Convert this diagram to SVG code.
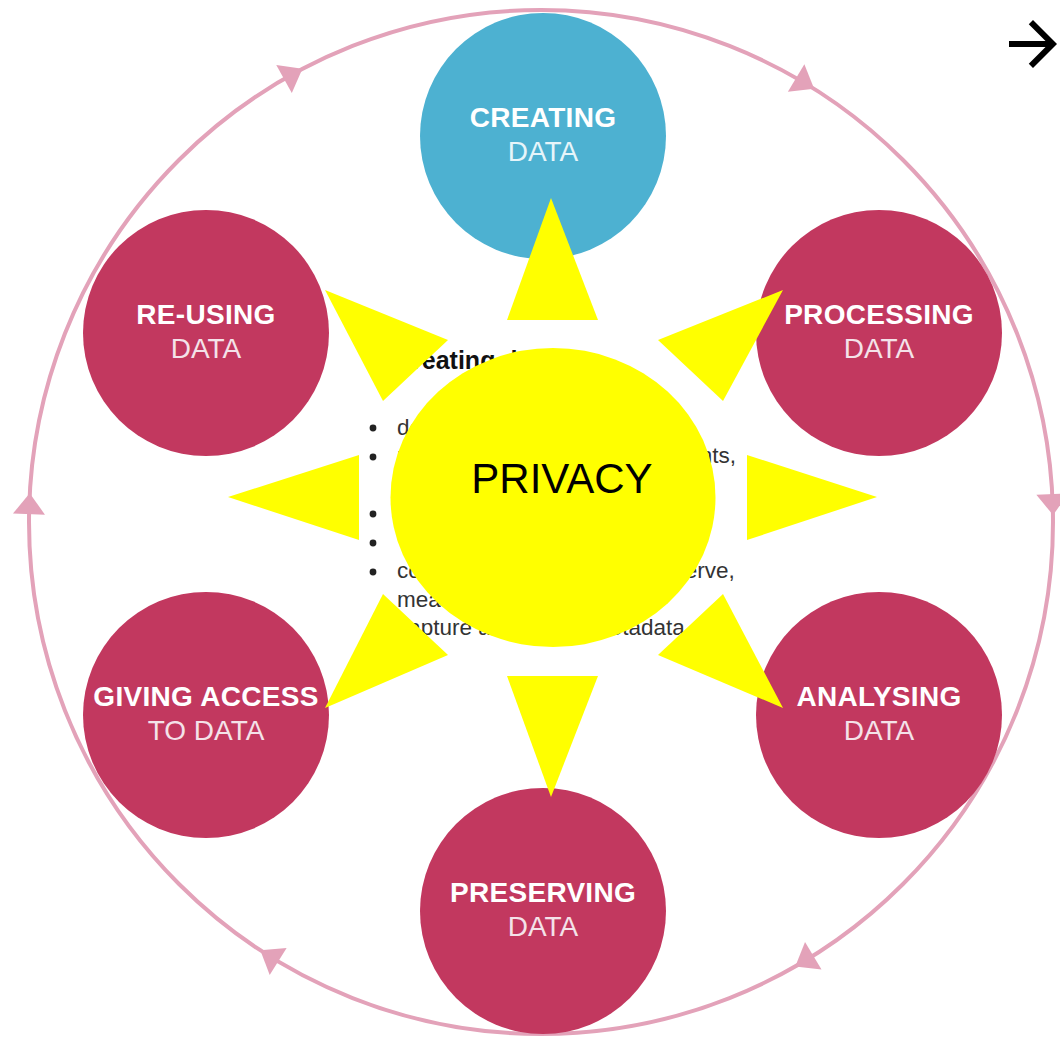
<svg xmlns="http://www.w3.org/2000/svg" width="1060" height="1037" viewBox="0 0 1060 1037">
<style>
.node{fill:#c2385f}
.blue{fill:#4db1d1}
.t1{font-family:"Liberation Sans",Arial,sans-serif;font-size:28px;font-weight:bold;fill:#ffffff;text-anchor:middle;letter-spacing:0.3px}
.t2{font-family:"Liberation Sans",Arial,sans-serif;font-size:28px;fill:#f4e2e9;text-anchor:middle}
.t2b{font-family:"Liberation Sans",Arial,sans-serif;font-size:28px;fill:#e6f5fa;text-anchor:middle}
.ring{fill:none;stroke:#e3a2b9;stroke-width:4}
.ah{fill:#e3a2b9}
.body{font-family:"Liberation Sans",Arial,sans-serif;font-size:22.5px;fill:#333333}
.head{font-family:"Liberation Sans",Arial,sans-serif;font-size:25px;font-weight:bold;fill:#111111}
.bul{fill:#222222}
.sun{fill:#ffff00}
</style>
<defs>
<polygon id="arrowhead" class="ah" points="-16,-10 16,-10 0,11"/>
</defs>
<rect width="1060" height="1037" fill="#ffffff"/>

<g id="connectors">
<circle class="ring" cx="541" cy="522" r="512"/>
<use href="#arrowhead" transform="translate(541 522) rotate(182) translate(512 0)"/>
<use href="#arrowhead" transform="translate(541 522) rotate(241) translate(512 0)"/>
<use href="#arrowhead" transform="translate(541 522) rotate(301) translate(512 0)"/>
<use href="#arrowhead" transform="translate(541 522) rotate(358) translate(512 0)"/>
<use href="#arrowhead" transform="translate(541 522) rotate(59) translate(512 0)"/>
<use href="#arrowhead" transform="translate(541 522) rotate(122) translate(512 0)"/>
</g>

<g id="node-creating">
<circle class="blue" cx="543" cy="136" r="123"/>
<text class="t1" x="543" y="127">CREATING</text>
<text class="t2b" x="543" y="161">DATA</text>
</g>
<g id="node-processing">
<circle class="node" cx="879" cy="333" r="123"/>
<text class="t1" x="879" y="324">PROCESSING</text>
<text class="t2" x="879" y="358">DATA</text>
</g>
<g id="node-analysing">
<circle class="node" cx="879" cy="715" r="123"/>
<text class="t1" x="879" y="706">ANALYSING</text>
<text class="t2" x="879" y="740">DATA</text>
</g>
<g id="node-preserving">
<circle class="node" cx="543" cy="911" r="123"/>
<text class="t1" x="543" y="902">PRESERVING</text>
<text class="t2" x="543" y="936">DATA</text>
</g>
<g id="node-giving-access">
<circle class="node" cx="206" cy="715" r="123"/>
<text class="t1" x="206" y="706">GIVING ACCESS</text>
<text class="t2" x="206" y="740">TO DATA</text>
</g>
<g id="node-reusing">
<circle class="node" cx="206" cy="333" r="123"/>
<text class="t1" x="206" y="324">RE-USING</text>
<text class="t2" x="206" y="358">DATA</text>
</g>

<g id="background-text">
<text class="head" x="394" y="369">Creating data</text>
<circle class="bul" cx="373" cy="428" r="3.4"/>
<circle class="bul" cx="373" cy="457" r="3.4"/>
<circle class="bul" cx="373" cy="514" r="3.4"/>
<circle class="bul" cx="373" cy="543" r="3.4"/>
<circle class="bul" cx="373" cy="572" r="3.4"/>
<text class="body" x="397" y="434.5">design research</text>
<text class="body" x="397" y="463">plan data management, consents,</text>
<text class="body" x="397" y="578">collect data (experiment, observe,</text>
<text class="body" x="397" y="606.5">measure, simulate)</text>
<text class="body" x="397" y="635">capture and create metadata</text>
</g>

<g id="node-privacy">
<polygon class="sun" points="551,198 507,320 598,320"/>
<polygon class="sun" points="551,797 507,676 598,676"/>
<polygon class="sun" points="228,497 359,455 359,540"/>
<polygon class="sun" points="877,497 747,455 747,540"/>
<polygon class="sun" points="325,290 448,340 383,401"/>
<polygon class="sun" points="783,290 658,340 723,401"/>
<polygon class="sun" points="325,708 383,594 448,655"/>
<polygon class="sun" points="783,708 723,594 658,655"/>
<ellipse class="sun" cx="553" cy="497.5" rx="162.5" ry="149.5"/>
<text x="562" y="493" font-family="'Liberation Sans',Arial,sans-serif" font-size="42" fill="#000000" text-anchor="middle">PRIVACY</text>
</g>

<g id="icon-arrow">
<path d="M12 4l-1.41 1.41L16.17 11H4v2h12.17l-5.58 5.59L12 20l8-8z" fill="#000000" transform="translate(997 8) scale(3)"/>
</g>
</svg>
